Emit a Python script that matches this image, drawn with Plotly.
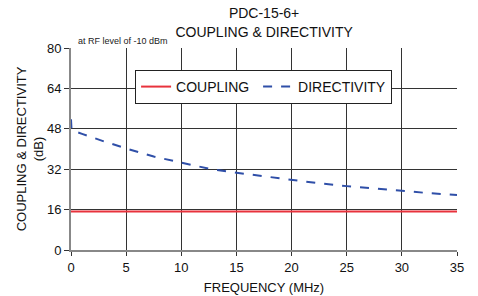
import plotly.graph_objects as go

freq_dir = [0, 0.05, 1, 2, 3, 5, 7.5, 10, 12.5, 15, 17.5, 20, 22.5, 25, 27.5, 30, 32.5, 35]
directivity = [51.8, 47.5, 46.0, 44.4, 43.0, 40.2, 37.0, 34.6, 32.2, 30.6, 29.1, 27.7, 26.4, 25.3, 24.3, 23.4, 22.5, 21.8]
freq_cpl = [0, 5, 10, 15, 20, 25, 30, 35]
coupling = [15.2, 15.2, 15.2, 15.2, 15.2, 15.2, 15.2, 15.2]

x_ticks = [0, 5, 10, 15, 20, 25, 30, 35]
y_ticks = [0, 16, 32, 48, 64, 80]

font = "Liberation Sans, Arial, sans-serif"

fig = go.Figure()
fig.add_trace(go.Scatter(x=freq_cpl, y=coupling, mode="lines", name="COUPLING\u00a0",
                         line=dict(color="#e8323c", width=2)))
fig.add_trace(go.Scatter(x=freq_dir, y=directivity, mode="lines", name="DIRECTIVITY",
                         line=dict(color="#2f4fa8", width=2, dash="dash")))

fig.update_layout(
    width=478, height=296,
    margin=dict(l=71, r=21, t=48, b=46),
    paper_bgcolor="white", plot_bgcolor="white",
    font=dict(family=font, size=12, color="#111"),
    title=dict(text="PDC-15-6+<br>COUPLING &amp; DIRECTIVITY", x=0.5525, xanchor="center",
               y=0.938, yanchor="top", font=dict(size=14, family=font, color="#111")),
    showlegend=True,
    legend=dict(orientation="h", x=0.166, y=0.807, xanchor="left", yanchor="middle",
                bordercolor="#222", borderwidth=1, bgcolor="white",
                font=dict(size=14, family=font), itemwidth=30),
    xaxis=dict(range=[0, 35], tickvals=x_ticks, showgrid=True, gridcolor="#333", gridwidth=1,
               zeroline=False, showline=True, linecolor="#888", linewidth=2, ticks="outside",
               ticklen=4, tickcolor="#333", tickfont=dict(size=13), automargin=False,
               title=dict(text="FREQUENCY (MHz)", font=dict(size=13), standoff=9)),
    yaxis=dict(range=[0, 80], tickvals=y_ticks, showgrid=True, gridcolor="#333", gridwidth=1,
               zeroline=False, showline=True, linecolor="#888", linewidth=2, ticks="outside",
               ticklen=5, tickcolor="#333", tickfont=dict(size=13), automargin=False,
               title=dict(text="COUPLING &amp; DIRECTIVITY<br>(dB)", font=dict(size=13), standoff=0)),
)
fig.add_annotation(text="at RF level of -10 dBm", xref="paper", yref="paper", x=0.012, y=1.0,
                   xanchor="left", yanchor="bottom", showarrow=False,
                   font=dict(size=9, family=font, color="#222"))

fig.write_html("out.html", post_script="document.body.style.margin='0';",
               config={"displayModeBar": False})
